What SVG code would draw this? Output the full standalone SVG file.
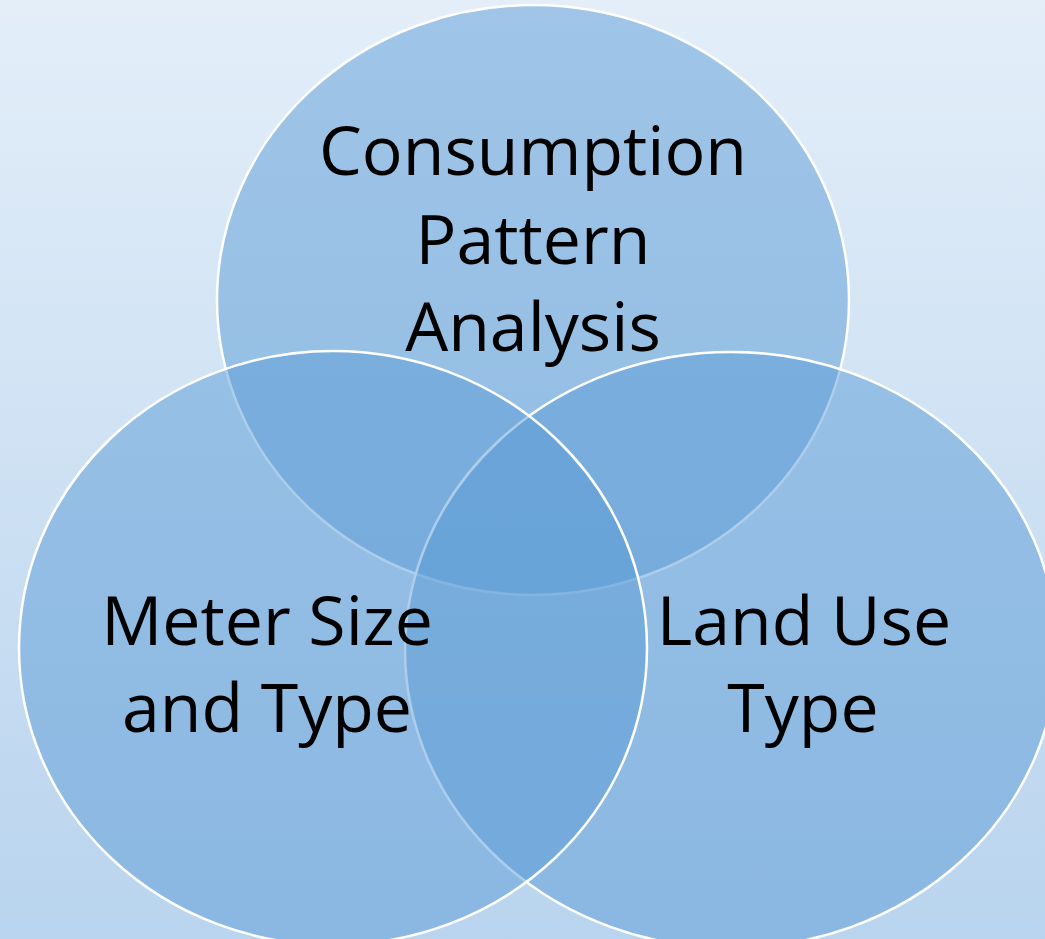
<svg xmlns="http://www.w3.org/2000/svg" width="1045" height="939" viewBox="0 0 1045 939">
  <defs>
    <linearGradient id="bg" x1="0" y1="0" x2="0" y2="1">
      <stop offset="0" stop-color="#e3eef9"/>
      <stop offset="1" stop-color="#b9d4ee"/>
    </linearGradient>
  </defs>
  <style>
    .c { fill: #5b9bd5; fill-opacity: 0.5; stroke: #ffffff; stroke-width: 2.5; }
    .t { font-family: "Open Sans", "Liberation Sans", sans-serif; font-size: 68px; fill: #000000; text-anchor: middle; }
  </style>
  <rect x="0" y="0" width="1045" height="939" fill="url(#bg)"/>
  <g id="node-consumption">
    <ellipse class="c" cx="533" cy="300" rx="316" ry="295"/>
  </g>
  <g id="node-landuse">
    <ellipse class="c" cx="731" cy="650" rx="326" ry="298"/>
  </g>
  <g id="node-meter">
    <ellipse class="c" cx="333" cy="648" rx="314" ry="297"/>
  </g>
  <g id="labels">
    <text class="t" x="533" y="175">Consumption</text>
    <text class="t" x="533" y="264">Pattern</text>
    <text class="t" x="533" y="351">Analysis</text>
    <text class="t" x="267" y="645">Meter Size</text>
    <text class="t" x="267" y="732">and Type</text>
    <text class="t" x="804" y="645">Land Use</text>
    <text class="t" x="803" y="732">Type</text>
  </g>
</svg>
